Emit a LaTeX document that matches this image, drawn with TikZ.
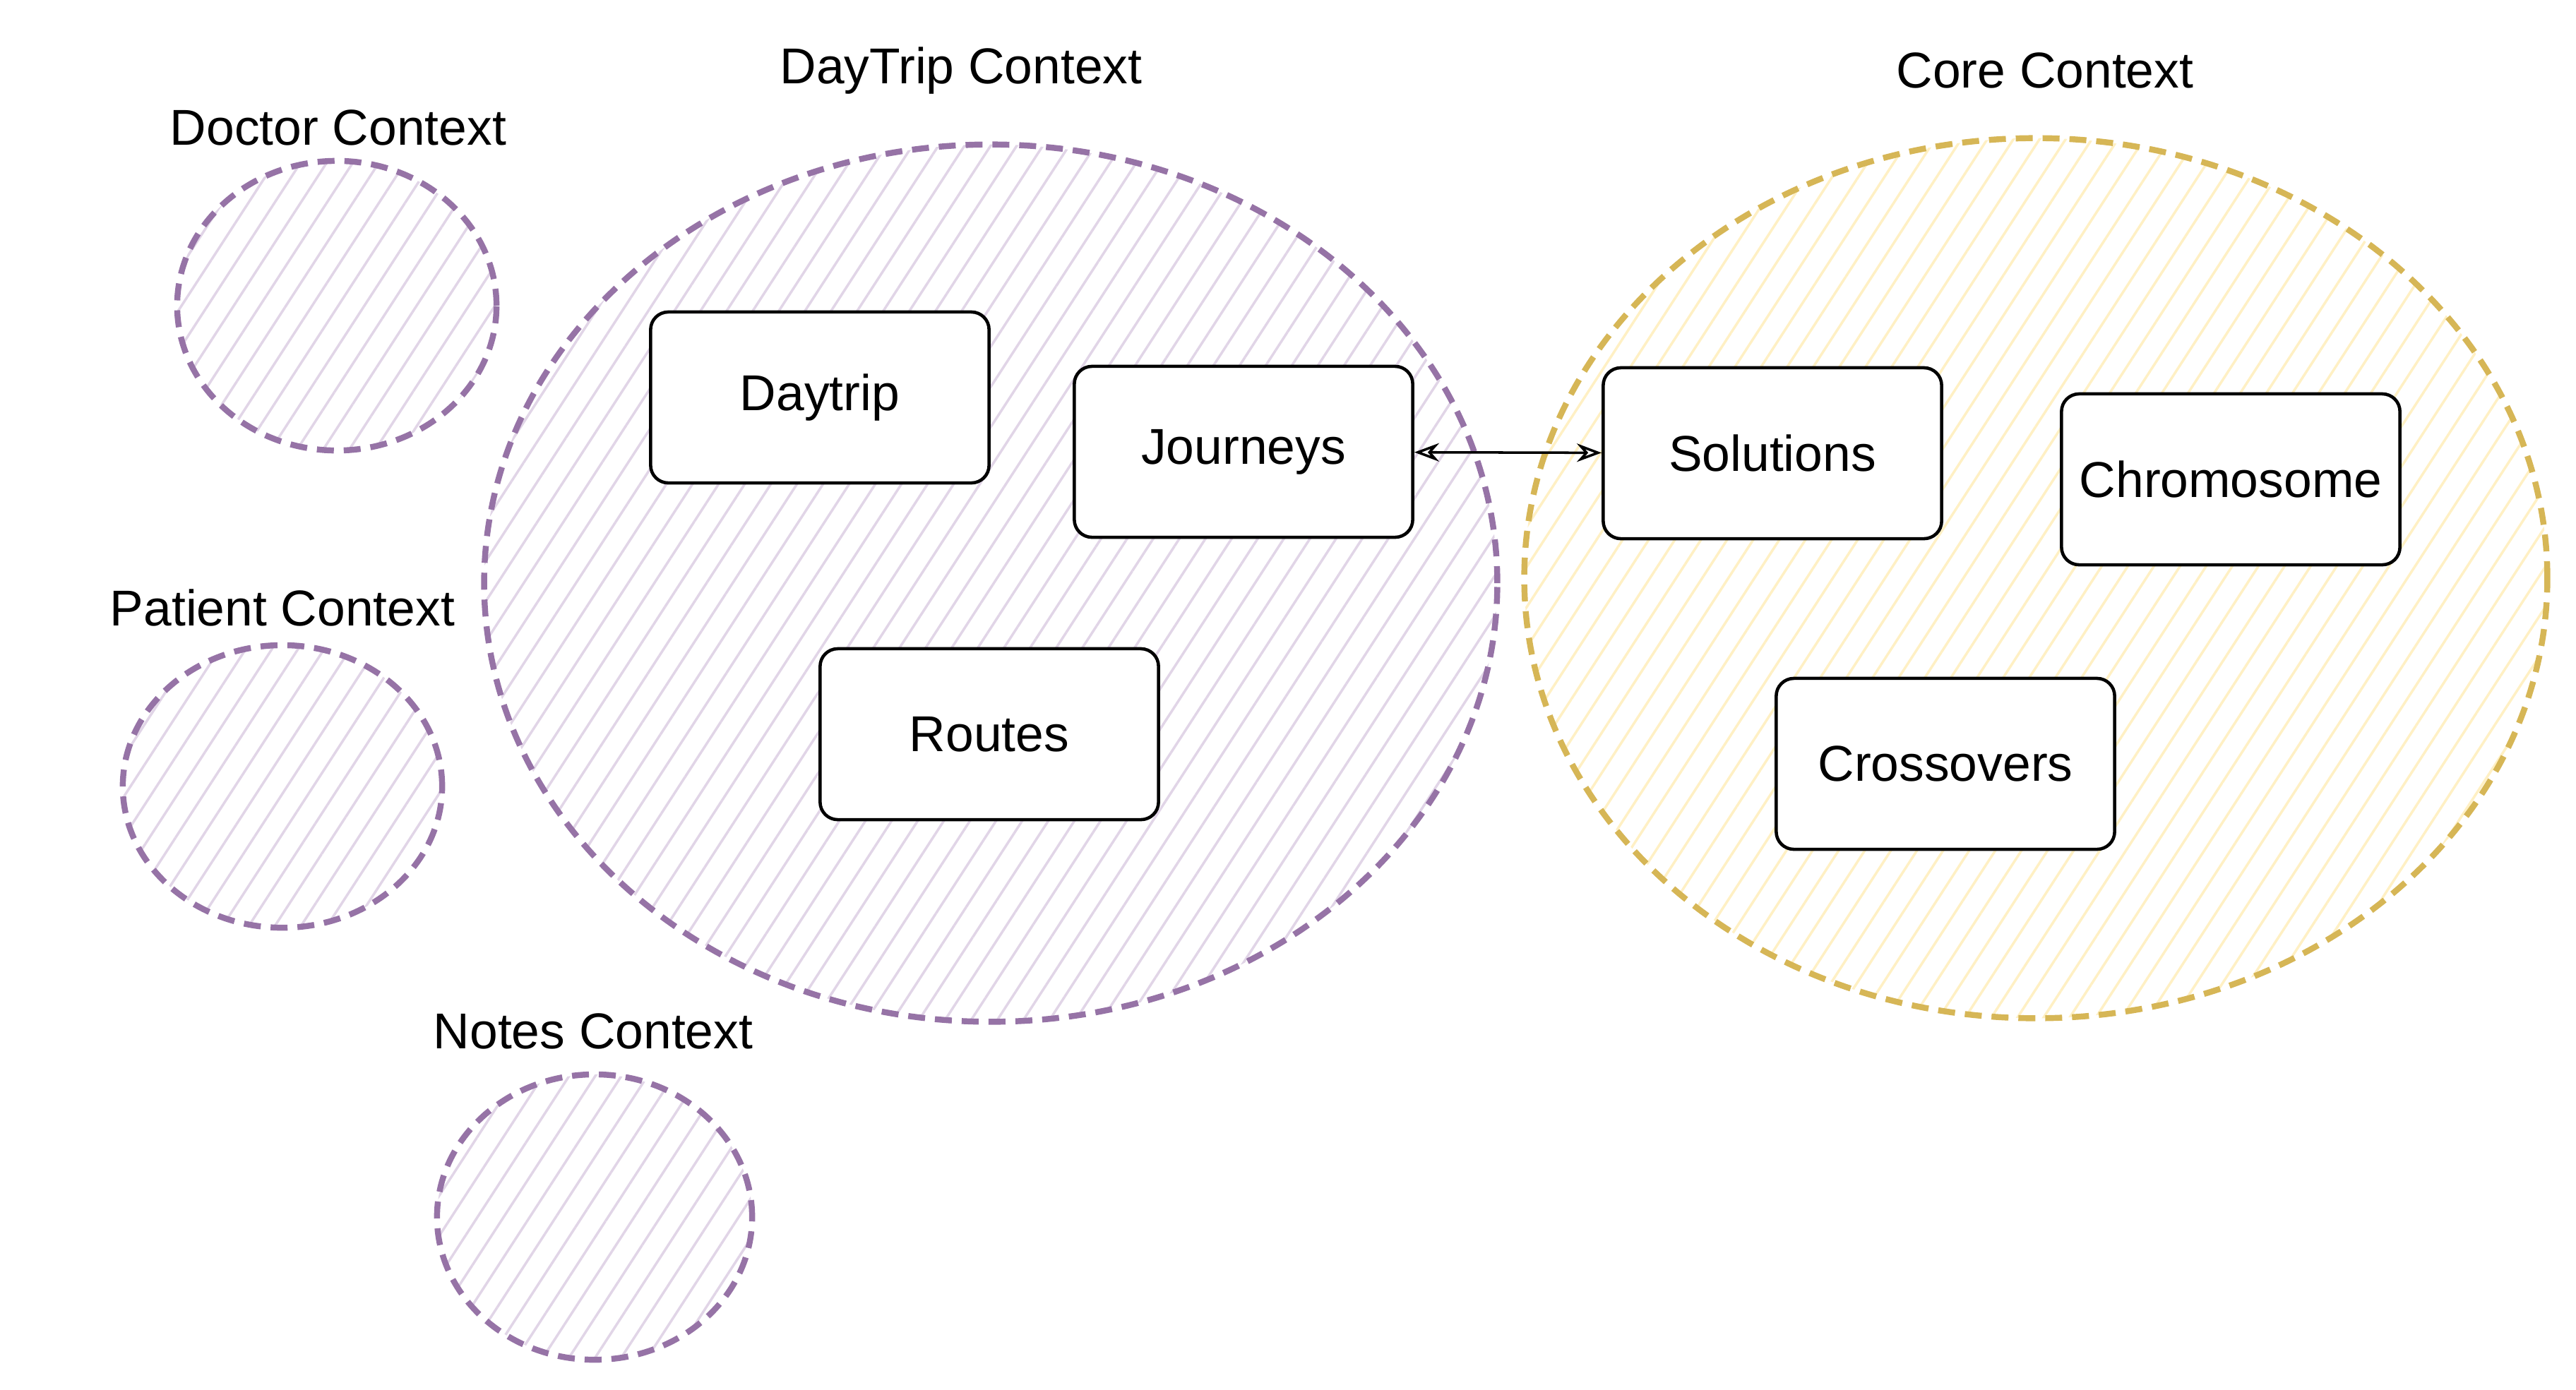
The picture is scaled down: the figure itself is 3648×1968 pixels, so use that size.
\documentclass[tikz,border=0pt]{standalone}
\usepackage{fontspec}
\setmainfont{Liberation Sans}
\usetikzlibrary{arrows.meta,shapes.geometric,patterns.meta}

\definecolor{purpleline}{HTML}{9673A6}
\definecolor{purplefill}{HTML}{E1D5E7}
\definecolor{yellowline}{HTML}{D6B656}
\definecolor{yellowfill}{HTML}{FFF0C4}

\begin{document}
\begin{tikzpicture}[x=0.01cm,y=-0.01cm,thick,>={Stealth[open,length=3.5mm,width=2.6mm]},
  font=\fontsize{20.3}{24}\selectfont]
  \tikzstyle{context}=[ellipse,solid,
    pattern={Lines[angle=57,distance=3.1mm,line width=1pt]}]
  \tikzstyle{purplectx}=[context,pattern color=purplefill,
    postaction={draw=purpleline,line width=2.4pt,dash pattern=on 2.4mm off 1.4mm}]
  \tikzstyle{yellowctx}=[context,pattern color=yellowfill,
    postaction={draw=yellowline,line width=2.4pt,dash pattern=on 2.4mm off 1.4mm}]
  \tikzstyle{entity}=[draw=black,line width=1.3pt,fill=white,rounded corners=2.5mm,
    minimum width=4.79cm,minimum height=2.42cm]

  \useasboundingbox (0,0) rectangle (3648,1968);

  % contexts
  \node[purplectx,minimum width=14.34cm,minimum height=12.42cm] (DT) at (1403,826) {};
  \node[yellowctx,minimum width=14.48cm,minimum height=12.46cm] (CO) at (2883,819) {};
  \node[purplectx,minimum width=4.52cm,minimum height=4.10cm] (DO) at (477,433) {};
  \node[purplectx,minimum width=4.52cm,minimum height=4.00cm] (PA) at (400,1114) {};
  \node[purplectx,minimum width=4.46cm,minimum height=4.04cm] (NO) at (842,1724) {};

  \node (DTlabel) at (1361,100) {DayTrip Context};
  \node (COlabel) at (2896,100) {Core Context};
  \node (DOlabel) at (479,181)  {Doctor Context};
  \node (PAlabel) at (400,861)  {Patient Context};
  \node (NOlabel) at (840,1461) {Notes Context};

  % entities
  \node[entity] (D)  at (1161,563)  {Daytrip};
  \node[entity] (J)  at (1761,640)  {Journeys};
  \node[entity] (R)  at (1401,1040) {Routes};
  \node[entity] (S)  at (2510,642)  {Solutions};
  \node[entity] (CH) at (3159,679)  {Chromosome};
  \node[entity] (CR) at (2755,1082) {Crossovers};

  \path (J) edge [<->,line width=1pt] (S);

\end{tikzpicture}
\end{document}
